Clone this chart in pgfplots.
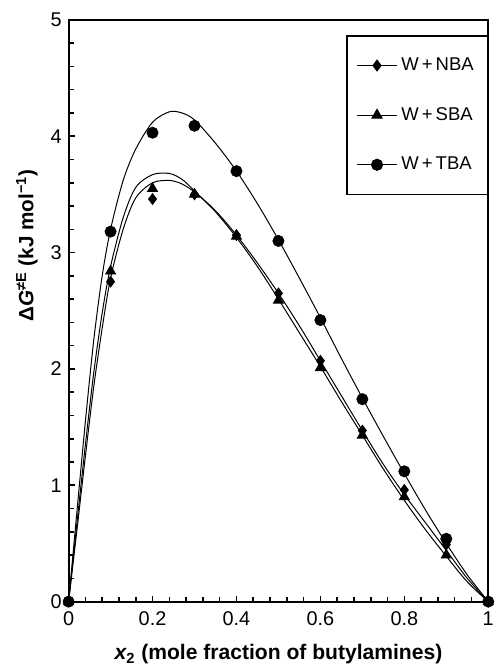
\documentclass[border=0pt]{standalone}
\usepackage{fontspec}
\setmainfont{Liberation Sans}
\usepackage{pgfplots}
\pgfplotsset{compat=1.18}

% measured points
\pgfplotstableread{
x    nba   sba   tba
0.0  0.00  0.00  0.00
0.1  2.75  2.84  3.18
0.2  3.46  3.55  4.03
0.3  3.50  3.50  4.09
0.4  3.15  3.14  3.70
0.5  2.65  2.59  3.10
0.6  2.07  2.01  2.42
0.7  1.47  1.43  1.74
0.8  0.96  0.90  1.12
0.9  0.49  0.40  0.54
1.0  0.00  0.00  0.00
}\pts

% fitted curves
\pgfplotstableread{
x     nba   sba   tba
0.00  0.00  0.00  0.00
0.02  0.62  0.68  0.78
0.04  1.25  1.35  1.55
0.06  1.85  1.97  2.25
0.08  2.35  2.48  2.80
0.10  2.78  2.88  3.20
0.13  3.20  3.30  3.62
0.16  3.47  3.56  3.89
0.20  3.60  3.67  4.12
0.24  3.62  3.68  4.21
0.27  3.59  3.63  4.20
0.30  3.52  3.53  4.14
0.35  3.36  3.35  3.94
0.40  3.15  3.13  3.70
0.45  2.91  2.88  3.42
0.50  2.65  2.60  3.11
0.55  2.37  2.31  2.78
0.60  2.07  2.02  2.44
0.65  1.77  1.72  2.09
0.70  1.47  1.43  1.75
0.75  1.18  1.14  1.42
0.80  0.92  0.87  1.10
0.85  0.68  0.62  0.79
0.90  0.44  0.39  0.50
0.95  0.20  0.17  0.23
1.00  0.00  0.00  0.00
}\fit

\begin{document}
\fontsize{10}{12}\selectfont
\begin{tikzpicture}
\begin{axis}[
  scale only axis, width=211pt, height=292.5pt,
  xmin=0, xmax=1, ymin=0, ymax=5,
  xtick={0,0.2,0.4,0.6,0.8,1}, ytick={0,1,2,3,4,5},
  minor x tick num=4, minor y tick num=4,
  tick align=inside, xtick pos=bottom, ytick pos=left,
  major tick length=3pt, minor tick length=2.5pt,
  every tick/.style={black, line width=0.8pt},
  axis line style={line width=1pt},
  /pgf/number format/assume math mode=true,
  ticklabel style={font=\fontsize{10}{12}\selectfont},
  xticklabel style={yshift=-1.5pt},
  xlabel={\fontsize{10.6}{12}\selectfont\bfseries\itshape x\textsubscript{\upshape 2}\upshape\ (mole fraction of butylamines)},
  ylabel={\fontsize{10.4}{12}\selectfont\bfseries Δ\itshape G\upshape\textsuperscript{≠E} (kJ mol\textsuperscript{−1})},
  every axis x label/.style={at={(axis description cs:0.5,-0.091)}, anchor=center},
  every axis y label/.style={at={(axis description cs:-0.0995,0.612)}, rotate=90, anchor=center},
  legend style={at={(0.661,0.974)}, anchor=north west, draw=black, line width=0.8pt,
    row sep=13pt, inner xsep=5pt, inner ysep=9pt,
    font=\fontsize{9.3}{11}\selectfont, cells={anchor=west}},
  legend image code/.code={
    \draw[#1, line width=0.5pt] (0cm,0cm) -- (0.7cm,0cm);
    \draw[#1, line width=0.5pt] plot coordinates {(0.35cm,0cm)};},
  clip=false,
]
\addplot[black, line width=0.5pt, smooth, tension=0.5, forget plot] table[x=x, y=nba] {\fit};
\addplot[black, line width=0.5pt, smooth, tension=0.5, forget plot] table[x=x, y=sba] {\fit};
\addplot[black, line width=0.5pt, smooth, tension=0.5, forget plot] table[x=x, y=tba] {\fit};
\addplot[black, only marks, mark=diamond*, mark size=2.7pt] table[x=x, y=nba] {\pts};
\addlegendentry{W\,+\,NBA}
\addplot[black, only marks, mark=triangle*, mark size=2.9pt] table[x=x, y=sba] {\pts};
\addlegendentry{W\,+\,SBA}
\addplot[black, only marks, mark=*, mark size=2.8pt] table[x=x, y=tba] {\pts};
\addlegendentry{W\,+\,TBA}
\end{axis}
\path (current axis.south west) ++(-34.5pt,-33pt);
\path (current axis.north east) ++(2.5pt,10pt);
\end{tikzpicture}
\end{document}
